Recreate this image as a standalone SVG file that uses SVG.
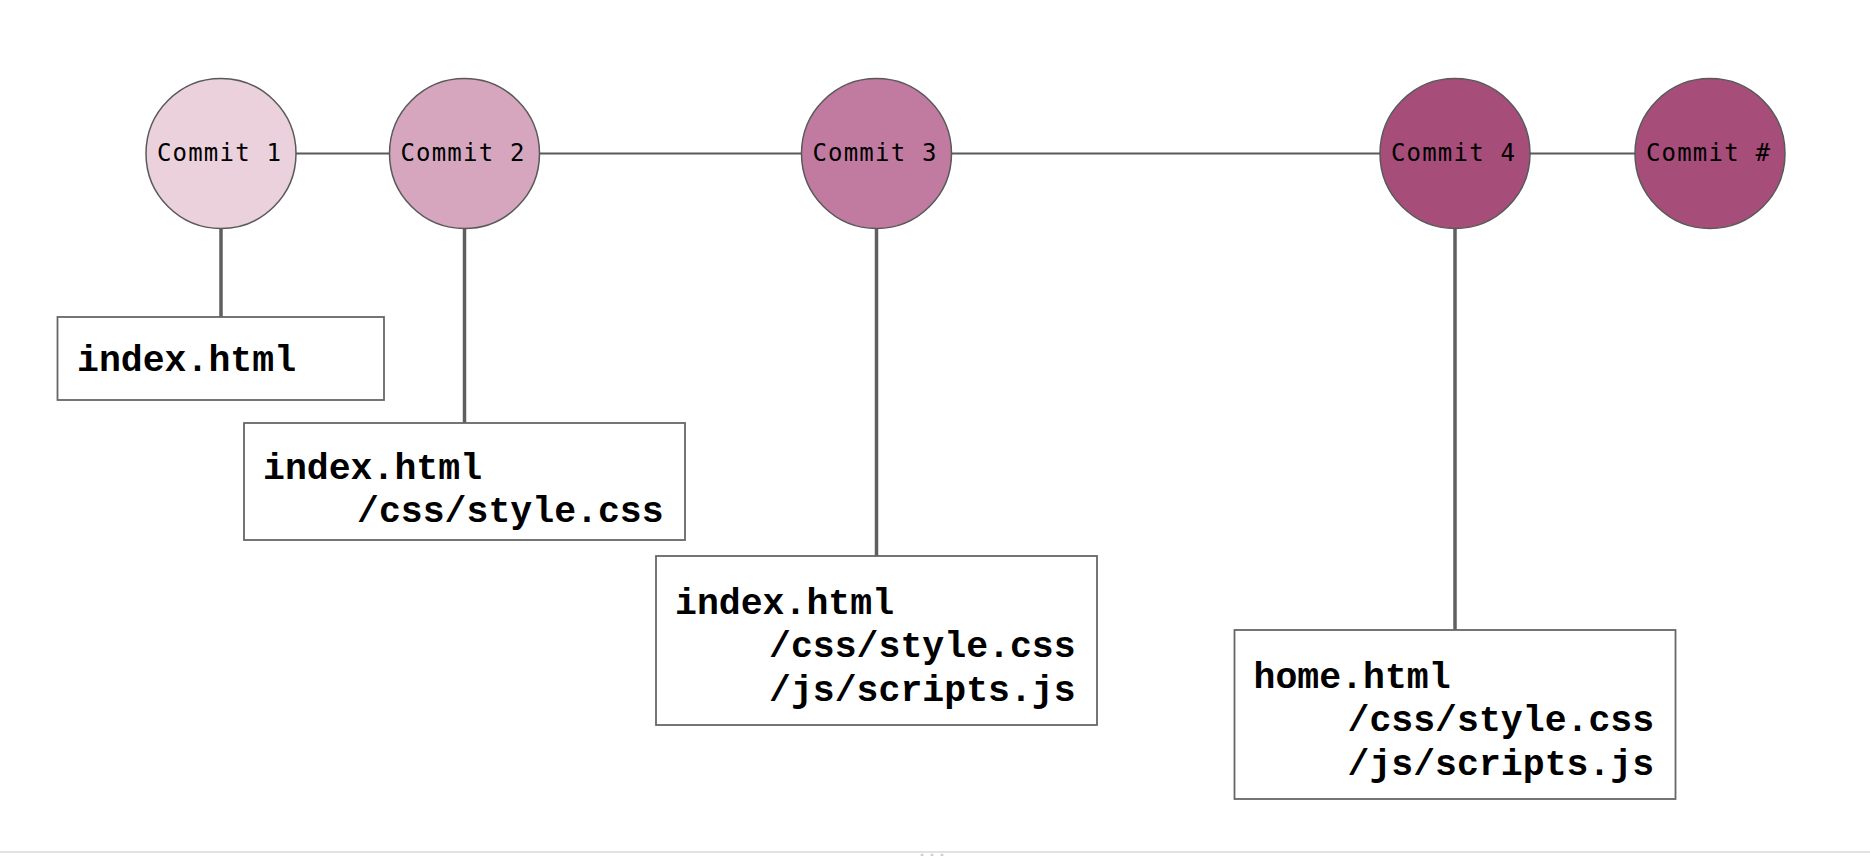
<svg xmlns="http://www.w3.org/2000/svg" width="1870" height="856" viewBox="0 0 1870 856">
<style>
.commit{stroke:#595959;stroke-width:1.5}
.ctext{font-family:"DejaVu Sans Mono","Liberation Mono",monospace;font-size:24px;fill:#000;text-anchor:middle;letter-spacing:1.2px}
.box{fill:#fff;stroke:#666;stroke-width:1.8}
.ftext{font-family:"Courier New","Nimbus Mono PS","FreeMono","Liberation Mono",monospace;font-weight:bold;font-size:36.5px;fill:#000}
.timeline{stroke:#595959;stroke-width:2;fill:none}
.stem{stroke:#5f5f5f;stroke-width:3.5;fill:none}
</style>
<rect width="1870" height="856" fill="#fff"/>
<g id="connectors">
<line class="timeline" x1="221" y1="153.5" x2="1710" y2="153.5"/>
<line class="stem" x1="221" y1="228" x2="221" y2="317"/>
<line class="stem" x1="464.5" y1="228" x2="464.5" y2="423"/>
<line class="stem" x1="876.5" y1="228" x2="876.5" y2="556"/>
<line class="stem" x1="1455" y1="228" x2="1455" y2="630"/>
</g>
<g id="commit1"><circle class="commit" cx="221" cy="153.5" r="75" fill="#ead1dc"/><text class="ctext" x="219.5" y="160.5">Commit 1</text></g>
<g id="commit2"><circle class="commit" cx="464.5" cy="153.5" r="75" fill="#d5a6bd"/><text class="ctext" x="463" y="160.5">Commit 2</text></g>
<g id="commit3"><circle class="commit" cx="876.5" cy="153.5" r="75" fill="#c27ba0"/><text class="ctext" x="875" y="160.5">Commit 3</text></g>
<g id="commit4"><circle class="commit" cx="1455" cy="153.5" r="75" fill="#a64d79"/><text class="ctext" x="1453.5" y="160.5">Commit 4</text></g>
<g id="commitN"><circle class="commit" cx="1710" cy="153.5" r="75" fill="#a64d79"/><text class="ctext" x="1708.5" y="160.5">Commit #</text></g>
<g id="files1"><rect class="box" x="57.5" y="317" width="326.5" height="83"/><text class="ftext" x="77" y="371">index.html</text></g>
<g id="files2"><rect class="box" x="244" y="423" width="441" height="117"/><text class="ftext" x="263" y="478.5">index.html</text><text class="ftext" x="357" y="522">/css/style.css</text></g>
<g id="files3"><rect class="box" x="656" y="556" width="441" height="169"/><text class="ftext" x="675" y="613.5">index.html</text><text class="ftext" x="769" y="657">/css/style.css</text><text class="ftext" x="769" y="700.5">/js/scripts.js</text></g>
<g id="files4"><rect class="box" x="1234.5" y="630" width="441" height="169"/><text class="ftext" x="1253.5" y="687.5">home.html</text><text class="ftext" x="1347.5" y="731">/css/style.css</text><text class="ftext" x="1347.5" y="774.5">/js/scripts.js</text></g>
<line x1="0" y1="852" x2="1870" y2="852" stroke="#e2e2e2" stroke-width="2"/>
<g fill="#cfcfcf"><circle cx="922" cy="855" r="1.5"/><circle cx="932" cy="855" r="1.5"/><circle cx="942" cy="855" r="1.5"/></g>
</svg>
